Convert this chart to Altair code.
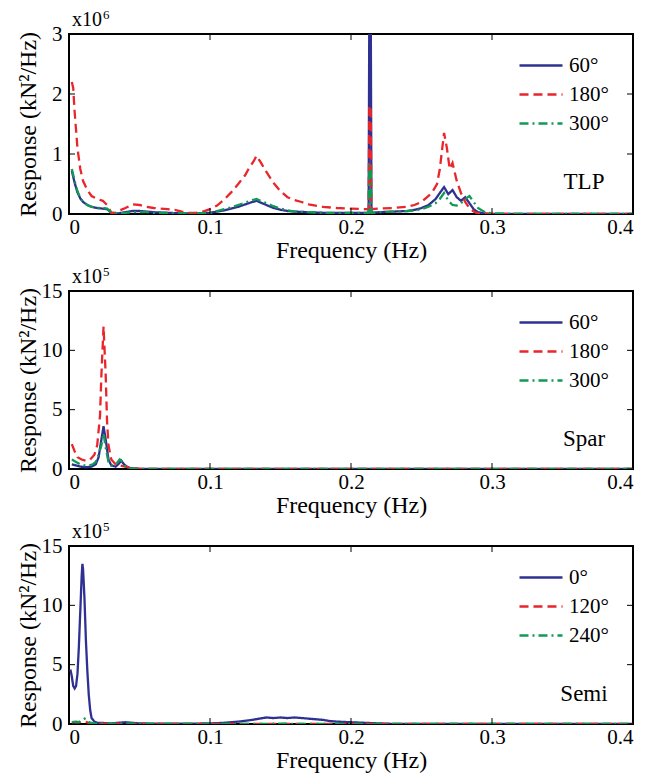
import altair as alt
import pandas as pd

FONT = "Liberation Serif"
BLUE = "#2E3192"
RED = "#E8262C"
GREEN = "#129A55"
COLORS = [BLUE, RED, GREEN]
DASHES = [[1, 0], [9, 5], [9, 4, 2, 4]]

x_ticks = [0, 0.1, 0.2, 0.3, 0.4]
y_title = "Response (kN²/Hz)"
x_title = "Frequency (Hz)"

# ---------------- TLP (x10^6 kN^2/Hz) ----------------
tlp_labels = ["60°", "180°", "300°"]
tlp_yticks = [0, 1, 2, 3]

tlp_f_60 = [0.002, 0.004, 0.006, 0.008, 0.010, 0.013, 0.016, 0.020, 0.024, 0.027, 0.030, 0.035, 0.040, 0.045,
            0.050, 0.055, 0.060, 0.070, 0.080, 0.090, 0.100, 0.105, 0.110, 0.115, 0.120, 0.125, 0.130, 0.133,
            0.136, 0.140, 0.145, 0.150, 0.155, 0.160, 0.170, 0.180, 0.190, 0.200, 0.210, 0.2125, 0.2130, 0.2140,
            0.2145, 0.220, 0.230, 0.240, 0.245, 0.250, 0.255, 0.260, 0.263, 0.266, 0.269, 0.272, 0.275, 0.278,
            0.281, 0.284, 0.287, 0.290, 0.295, 0.300, 0.320, 0.350, 0.400]
tlp_r_60 = [0.72, 0.52, 0.36, 0.26, 0.20, 0.15, 0.12, 0.10, 0.09, 0.08, 0.02, 0.01, 0.03, 0.05,
            0.05, 0.04, 0.03, 0.02, 0.01, 0.01, 0.02, 0.04, 0.06, 0.09, 0.12, 0.16, 0.20, 0.22,
            0.19, 0.15, 0.10, 0.07, 0.05, 0.04, 0.03, 0.02, 0.02, 0.02, 0.02, 0.02, 3.5, 3.5,
            0.02, 0.03, 0.04, 0.05, 0.07, 0.10, 0.15, 0.25, 0.35, 0.45, 0.33, 0.40, 0.28, 0.22,
            0.28, 0.18, 0.08, 0.03, 0.01, 0.0, 0.0, 0.0, 0.0]

tlp_f_180 = [0.002, 0.003, 0.004, 0.006, 0.008, 0.010, 0.013, 0.016, 0.020, 0.024, 0.027, 0.030, 0.033, 0.036,
             0.040, 0.045, 0.050, 0.055, 0.060, 0.065, 0.070, 0.075, 0.080, 0.085, 0.090, 0.095, 0.100, 0.105,
             0.110, 0.115, 0.120, 0.125, 0.128, 0.131, 0.133, 0.136, 0.140, 0.145, 0.150, 0.155, 0.160, 0.165,
             0.170, 0.180, 0.190, 0.200, 0.2125, 0.2130, 0.2140, 0.2145, 0.220, 0.230, 0.240, 0.245, 0.250,
             0.255, 0.258, 0.261, 0.263, 0.266, 0.268, 0.270, 0.272, 0.275, 0.278, 0.281, 0.284, 0.287, 0.290,
             0.300, 0.350, 0.400]
tlp_r_180 = [2.2, 2.1, 1.7, 1.1, 0.75, 0.55, 0.40, 0.30, 0.25, 0.22, 0.15, 0.02, 0.02, 0.06,
             0.10, 0.16, 0.15, 0.12, 0.10, 0.09, 0.08, 0.07, 0.04, 0.02, 0.02, 0.04, 0.08, 0.14,
             0.24, 0.36, 0.50, 0.65, 0.78, 0.88, 0.97, 0.86, 0.70, 0.52, 0.38, 0.28, 0.23, 0.20,
             0.16, 0.12, 0.10, 0.09, 0.08, 1.8, 1.8, 0.08, 0.09, 0.10, 0.12, 0.15, 0.20,
             0.30, 0.38, 0.50, 0.75, 1.35, 1.10, 0.75, 0.85, 0.55, 0.35, 0.20, 0.10, 0.04, 0.01,
             0.0, 0.0, 0.0]

tlp_f_300 = [0.002, 0.004, 0.006, 0.008, 0.010, 0.013, 0.016, 0.020, 0.024, 0.027, 0.030, 0.035, 0.040, 0.045,
             0.050, 0.055, 0.060, 0.070, 0.080, 0.090, 0.100, 0.105, 0.110, 0.115, 0.120, 0.125, 0.130, 0.133,
             0.136, 0.140, 0.145, 0.150, 0.155, 0.160, 0.170, 0.180, 0.190, 0.200, 0.210, 0.2125, 0.2130, 0.2140,
             0.2145, 0.220, 0.230, 0.240, 0.245, 0.250, 0.255, 0.260, 0.263, 0.266, 0.269, 0.272, 0.275, 0.278,
             0.281, 0.284, 0.287, 0.290, 0.295, 0.300, 0.320, 0.350, 0.400]
tlp_r_300 = [0.75, 0.55, 0.38, 0.27, 0.20, 0.15, 0.12, 0.10, 0.10, 0.09, 0.03, 0.01, 0.02, 0.03,
             0.03, 0.03, 0.02, 0.02, 0.01, 0.01, 0.02, 0.05, 0.08, 0.11, 0.15, 0.19, 0.23, 0.25,
             0.22, 0.18, 0.13, 0.09, 0.06, 0.04, 0.03, 0.02, 0.02, 0.02, 0.02, 0.02, 0.8, 0.8,
             0.02, 0.03, 0.04, 0.05, 0.06, 0.08, 0.12, 0.18, 0.25, 0.35, 0.22, 0.15, 0.14, 0.18,
             0.25, 0.30, 0.20, 0.10, 0.03, 0.01, 0.0, 0.0, 0.0]

# ---------------- Spar (x10^5 kN^2/Hz) ----------------
spar_labels = ["60°", "180°", "300°"]
spar_yticks = [0, 5, 10, 15]

spar_f_60 = [0.002, 0.005, 0.008, 0.012, 0.016, 0.019, 0.021, 0.023, 0.0245, 0.026, 0.028, 0.030, 0.033,
             0.035, 0.037, 0.039, 0.042, 0.045, 0.050, 0.400]
spar_r_60 = [0.4, 0.3, 0.2, 0.15, 0.2, 0.4, 1.0, 2.5, 3.6, 2.5, 0.8, 0.3, 0.2,
             0.4, 0.7, 0.4, 0.1, 0.05, 0.0, 0.0]

spar_f_180 = [0.002, 0.004, 0.006, 0.009, 0.012, 0.015, 0.018, 0.020, 0.022, 0.023, 0.0245, 0.026, 0.027,
              0.028, 0.030, 0.033, 0.036, 0.040, 0.045, 0.050, 0.060, 0.400]
spar_r_180 = [2.1, 1.5, 1.0, 0.8, 0.7, 0.8, 1.2, 2.0, 4.5, 8.0, 12.0, 8.0, 4.0,
              2.0, 0.8, 0.4, 0.3, 0.2, 0.1, 0.02, 0.0, 0.0]

spar_f_300 = [0.002, 0.005, 0.008, 0.011, 0.014, 0.017, 0.019, 0.021, 0.023, 0.0245, 0.026, 0.028, 0.030,
              0.032, 0.034, 0.036, 0.038, 0.040, 0.043, 0.050, 0.400]
spar_r_300 = [0.8, 0.6, 0.4, 0.3, 0.3, 0.4, 0.6, 1.2, 2.0, 3.0, 1.8, 0.6, 0.3,
              0.3, 0.5, 0.8, 0.6, 0.2, 0.05, 0.0, 0.0]

# ---------------- Semi (x10^5 kN^2/Hz) ----------------
semi_labels = ["0°", "120°", "240°"]
semi_yticks = [0, 5, 10, 15]

semi_f_0 = [0.001, 0.002, 0.003, 0.004, 0.005, 0.006, 0.007, 0.008, 0.009, 0.0095, 0.010, 0.011, 0.012,
            0.013, 0.014, 0.015, 0.016, 0.018, 0.020, 0.025, 0.030, 0.035, 0.040, 0.045, 0.050, 0.060,
            0.080, 0.100, 0.110, 0.120, 0.130, 0.135, 0.140, 0.145, 0.150, 0.155, 0.160, 0.165, 0.170,
            0.175, 0.180, 0.185, 0.190, 0.200, 0.210, 0.220, 0.230, 0.250, 0.400]
semi_r_0 = [4.6, 4.0, 3.2, 3.0, 3.2, 4.2, 6.5, 9.5, 12.5, 13.5, 13.0, 10.5, 7.0,
            4.5, 2.5, 1.2, 0.5, 0.2, 0.1, 0.08, 0.05, 0.1, 0.15, 0.1, 0.05, 0.03,
            0.02, 0.05, 0.1, 0.2, 0.35, 0.45, 0.55, 0.5, 0.55, 0.5, 0.55, 0.5, 0.45,
            0.4, 0.35, 0.25, 0.2, 0.15, 0.1, 0.05, 0.01, 0.0, 0.0]

semi_f_120 = [0.002, 0.008, 0.011, 0.014, 0.018, 0.400]
semi_r_120 = [0.1, 0.15, 0.2, 0.1, 0.02, 0.0]

semi_f_240 = [0.002, 0.005, 0.007, 0.009, 0.011, 0.012, 0.014, 0.017, 0.020, 0.040, 0.100, 0.150, 0.200, 0.400]
semi_r_240 = [0.15, 0.2, 0.15, 0.3, 0.45, 0.4, 0.15, 0.05, 0.02, 0.03, 0.01, 0.02, 0.01, 0.0]

exp6 = "6"
exp5 = "5"
times_text = "x10"


def long_df(labels, freqs, resps):
    frames = []
    for lab, f, r in zip(labels, freqs, resps):
        frames.append(pd.DataFrame({"freq": f, "resp": r, "series": lab}))
    return pd.concat(frames, ignore_index=True)


def panel(df, labels, ymax, yticks, exponent, name, h, W=564):
    x_enc = alt.X("freq:Q", scale=alt.Scale(domain=[0, 0.4], nice=False, zero=False),
                  axis=alt.Axis(values=x_ticks, format="~g", title=x_title, labelPadding=2,
                                titleY=36, titleBaseline="middle"))
    y_enc = alt.Y("resp:Q", scale=alt.Scale(domain=[0, ymax], nice=False),
                  axis=alt.Axis(values=yticks, format="d", title=y_title, labelPadding=7,
                                titleX=-41, titleBaseline="middle", titleAngle=270))
    leg = alt.Legend(title=None, orient="none", legendX=449, legendY=17, symbolType="stroke",
                     symbolSize=1850, symbolStrokeWidth=2.5, labelFont=FONT, labelFontSize=21,
                     labelOffset=5, clipHeight=29, rowPadding=0, padding=0, labelColor="black")
    lines = alt.Chart(df).mark_line(clip=True, strokeWidth=2.3).encode(
        x=x_enc, y=y_enc,
        color=alt.Color("series:N", scale=alt.Scale(domain=labels, range=COLORS), legend=leg),
        strokeDash=alt.StrokeDash("series:N", scale=alt.Scale(domain=labels, range=DASHES), legend=leg),
    )
    xt = pd.DataFrame({"freq": x_ticks})
    yt = pd.DataFrame({"resp": yticks})
    tick_b = alt.Chart(xt).mark_rule(color="black", strokeWidth=1).encode(
        x=x_enc, y=alt.value(h), y2=alt.value(h - 6))
    tick_t = alt.Chart(xt).mark_rule(color="black", strokeWidth=1).encode(
        x=x_enc, y=alt.value(0), y2=alt.value(6))
    tick_l = alt.Chart(yt).mark_rule(color="black", strokeWidth=1).encode(
        y=y_enc, x=alt.value(0), x2=alt.value(6))
    tick_r = alt.Chart(yt).mark_rule(color="black", strokeWidth=1).encode(
        y=y_enc, x=alt.value(W), x2=alt.value(W - 6))
    tx = alt.Chart(pd.DataFrame({"t": [times_text]})).mark_text(
        font=FONT, fontSize=20, align="left", baseline="alphabetic", color="black").encode(
        text="t:N", x=alt.value(3), y=alt.value(-8))
    ex = alt.Chart(pd.DataFrame({"t": [exponent]})).mark_text(
        font=FONT, fontSize=13, align="left", baseline="alphabetic", color="black").encode(
        text="t:N", x=alt.value(34), y=alt.value(-15))
    nm = alt.Chart(pd.DataFrame({"t": [name]})).mark_text(
        font=FONT, fontSize=23, align="center", baseline="middle", color="black").encode(
        text="t:N", x=alt.value(515), y=alt.value(148))
    return alt.layer(lines, tick_b, tick_t, tick_l, tick_r, tx, ex, nm).properties(width=W, height=h)


tlp_df = long_df(tlp_labels, [tlp_f_60, tlp_f_180, tlp_f_300], [tlp_r_60, tlp_r_180, tlp_r_300])
spar_df = long_df(spar_labels, [spar_f_60, spar_f_180, spar_f_300], [spar_r_60, spar_r_180, spar_r_300])
semi_df = long_df(semi_labels, [semi_f_0, semi_f_120, semi_f_240], [semi_r_0, semi_r_120, semi_r_240])

p1 = panel(tlp_df, tlp_labels, 3, tlp_yticks, exp6, "TLP", 180)
p2 = panel(spar_df, spar_labels, 15, spar_yticks, exp5, "Spar", 178)
p3 = panel(semi_df, semi_labels, 15, semi_yticks, exp5, "Semi", 178)

chart = alt.vconcat(p1, p2, p3, spacing=77, bounds="flush").resolve_scale(
    color="independent", strokeDash="independent", x="independent", y="independent"
).resolve_legend(color="independent", strokeDash="independent").properties(
    padding={"left": 6, "top": 0, "right": 0, "bottom": 0}, background="white"
).configure_view(stroke="black", strokeWidth=2).configure_axis(
    labelFont=FONT, labelFontSize=21, labelColor="black", titleFont=FONT, titleFontSize=24,
    titleFontWeight="normal", titleColor="black", domain=False, ticks=False, grid=False
)

chart.save("out.html", embed_options={"renderer": "svg", "actions": False})
